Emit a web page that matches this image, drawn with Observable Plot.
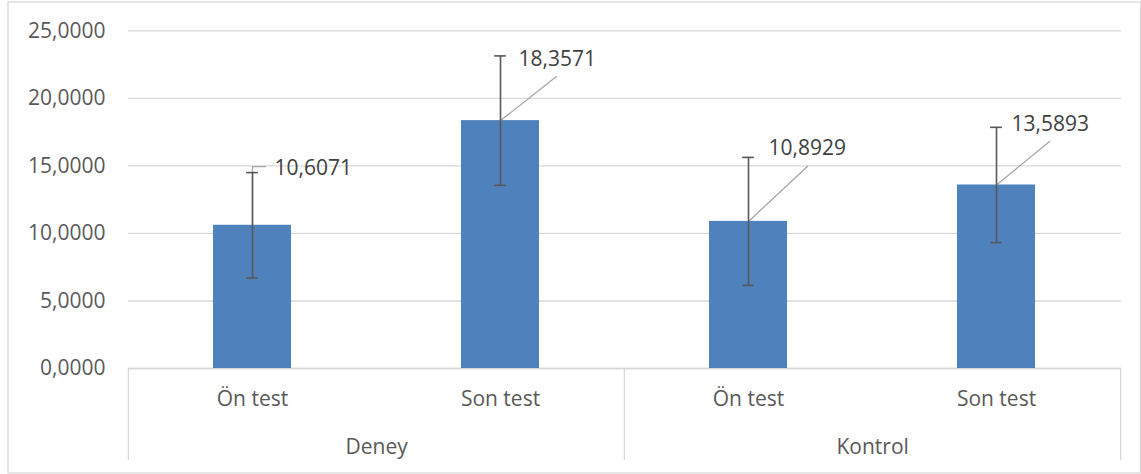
<!DOCTYPE html>
<html>
<head>
<meta charset="utf-8">
<script src="https://cdn.jsdelivr.net/npm/d3@7"></script>
<script src="https://cdn.jsdelivr.net/npm/@observablehq/plot@0.6"></script>
<style>
  html, body { margin: 0; padding: 0; background: #ffffff; }
  #chart svg { display: block; }
</style>
</head>
<body>
<div id="chart"></div>
<script>
// ---- data ----
const groups = ["Deney", "Deney", "Kontrol", "Kontrol"];
const tests  = ["Ön test", "Son test", "Ön test", "Son test"];
const means  = [10.6071, 18.3571, 10.8929, 13.5893];
const errs   = [3.90, 4.79, 4.74, 4.27];
const yTicks = [0, 5, 10, 15, 20, 25];

const data = means.map((m, i) => ({
  key: groups[i] + "|" + tests[i], group: groups[i], test: tests[i], mean: m, err: errs[i]
}));
const keys = data.map(d => d.key);
const groupStarts = data.filter((d, i) => i === 0 || groups[i - 1] !== d.group);
const lastItem = [data[data.length - 1]];
const fmt = v => v.toFixed(4).replace(".", ",");

// ---- layout / style ----
const W = 1141, H = 474;
const mL = 128, mR = 20, mT = 30.4, mB = 106;
const step = (W - mL - mR) / keys.length;
const blue = "#4f81bd", grid = "#d9d9d9", textCol = "#595959", labelCol = "#404040";
const FS = 21;
// data-label placement (pixel offsets, leader line geometry)
const labelStyle = [
  {dx: 22, dy: -57,   leaders: [{len: 58.6, rot: 0, dy: 0}, {len: 13, rot: 90, dy: -58.6}]},
  {dx: 18, dy: -61,   leaders: [{len: 71.2, rot: 51.8, dy: 0}]},
  {dx: 20, dy: -73,   leaders: [{len: 80.5, rot: 47, dy: 0}]},
  {dx: 15, dy: -60.5, leaders: [{len: 68.6, rot: 50.6, dy: 0}]}
];

const leaderMarks = [];
const labelMarks = [];
data.forEach((d, i) => {
  const s = labelStyle[i];
  s.leaders.forEach(l => {
    leaderMarks.push(Plot.vector([d], {
      x: "key", y: "mean", anchor: "start", length: l.len, rotate: l.rot, dy: l.dy,
      r: 0, stroke: "#a6a6a6", strokeWidth: 1.3
    }));
  });
  labelMarks.push(Plot.text([d], {
    x: "key", y: "mean", text: d2 => fmt(d2.mean), dx: s.dx, dy: s.dy,
    textAnchor: "start", lineAnchor: "middle", fontSize: FS, fill: labelCol
  }));
});

const plot = Plot.plot({
  width: W, height: H,
  marginLeft: mL, marginRight: mR, marginTop: mT, marginBottom: mB,
  style: {fontFamily: "'Open Sans', sans-serif", fontSize: FS + "px", color: textCol, background: "#ffffff"},
  x: {type: "band", domain: keys, paddingInner: 0.685, paddingOuter: 0.3425, label: null},
  y: {domain: [0, 25], label: null},
  marks: [
    Plot.frame({stroke: grid, strokeWidth: 1.3, insetLeft: -(mL - 7.5), insetTop: -(mT - 1.5),
                insetRight: -(mR - 1), insetBottom: -(mB - 1.5)}),
    Plot.gridY(yTicks, {stroke: grid, strokeOpacity: 1, strokeWidth: 1.3}),
    Plot.ruleY([0], {stroke: grid, strokeWidth: 1.3}),
    // category box lines
    Plot.ruleX(groupStarts, {x: "key", dx: -step / 2, y1: 0, y2: 0, insetBottom: -92, stroke: grid, strokeWidth: 1.3}),
    Plot.ruleX(lastItem, {x: "key", dx: step / 2, y1: 0, y2: 0, insetBottom: -92, stroke: grid, strokeWidth: 1.3}),
    Plot.barY(data, {x: "key", y: "mean", fill: blue}),
    ...leaderMarks,
    Plot.ruleX(data, {x: "key", y1: d => d.mean - d.err, y2: d => d.mean + d.err, stroke: "#595959", strokeWidth: 1.6}),
    Plot.tickY(data, {x: "key", y: d => d.mean + d.err, stroke: "#595959", strokeWidth: 1.6, inset: (step * 0.315 - 12) / 2}),
    Plot.tickY(data, {x: "key", y: d => d.mean - d.err, stroke: "#595959", strokeWidth: 1.6, inset: (step * 0.315 - 12) / 2}),
    ...labelMarks,
    Plot.axisY(yTicks, {tickSize: 0, tickPadding: 23, tickFormat: fmt, fontSize: FS, fill: textCol}),
    Plot.axisX({tickSize: 0, tickPadding: 23, tickFormat: k => k.split("|")[1], fontSize: FS, fill: textCol}),
    Plot.text(groupStarts, {x: "key", dx: step / 2, y: 0, dy: 78.5, text: "group", lineAnchor: "middle",
                            fontSize: FS, fill: textCol})
  ]
});
document.getElementById("chart").appendChild(plot);
</script>
</body>
</html>
